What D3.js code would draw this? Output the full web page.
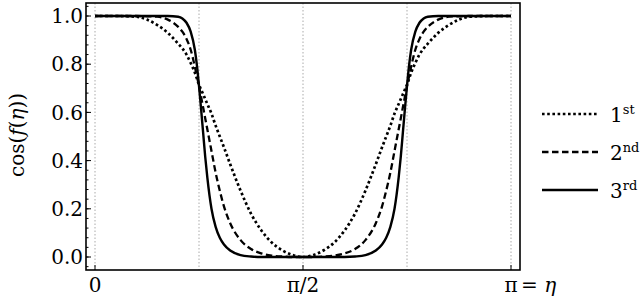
<!DOCTYPE html>
<html>
<head>
<meta charset="utf-8">
<script src="https://cdn.jsdelivr.net/npm/d3@7"></script>
<style>
  html, body { margin: 0; padding: 0; background: #fff; }
  svg { display: block; }
</style>
</head>
<body>
<svg id="chart" width="640" height="301"></svg>
<script>
// eta in units of pi
const eta = [0, 0.05, 0.1, 0.125, 0.15, 0.175, 0.2, 0.21, 0.22, 0.23, 0.24, 0.245, 0.25, 0.255, 0.26, 0.265, 0.27, 0.28, 0.29, 0.3, 0.31, 0.325, 0.35, 0.375, 0.4, 0.425, 0.45, 0.475, 0.5,
  0.525, 0.55, 0.575, 0.6, 0.625, 0.65, 0.675, 0.69, 0.7, 0.71, 0.72, 0.73, 0.735, 0.74, 0.745, 0.75, 0.755, 0.76, 0.77, 0.78, 0.79, 0.8, 0.825, 0.85, 0.875, 0.9, 0.95, 1.0];

const first = [1, 1, 0.997, 0.985, 0.962, 0.93, 0.885, 0.865, 0.84, 0.805, 0.765, 0.74, 0.715, 0.695, 0.675, 0.655, 0.635, 0.595, 0.545, 0.5, 0.455, 0.385, 0.275, 0.18, 0.11, 0.06, 0.028, 0.008, 0,
  0.008, 0.028, 0.06, 0.11, 0.18, 0.275, 0.385, 0.455, 0.5, 0.545, 0.595, 0.635, 0.655, 0.675, 0.695, 0.715, 0.74, 0.765, 0.805, 0.84, 0.865, 0.885, 0.93, 0.962, 0.985, 0.997, 1, 1];

const second = [1, 1, 1, 0.999, 0.997, 0.985, 0.955, 0.935, 0.905, 0.86, 0.79, 0.75, 0.71, 0.665, 0.62, 0.575, 0.53, 0.44, 0.35, 0.275, 0.21, 0.14, 0.07, 0.033, 0.015, 0.006, 0.002, 0, 0,
  0, 0.002, 0.006, 0.015, 0.033, 0.07, 0.14, 0.21, 0.275, 0.35, 0.44, 0.53, 0.575, 0.62, 0.665, 0.71, 0.75, 0.79, 0.86, 0.905, 0.935, 0.955, 0.985, 0.997, 0.999, 1, 1, 1];

const third = [1, 1, 1, 1, 1, 1, 0.997, 0.99, 0.972, 0.935, 0.86, 0.795, 0.71, 0.615, 0.515, 0.415, 0.33, 0.2, 0.125, 0.08, 0.052, 0.027, 0.008, 0.002, 0, 0, 0, 0, 0,
  0, 0, 0, 0, 0.002, 0.008, 0.027, 0.052, 0.08, 0.125, 0.2, 0.33, 0.415, 0.515, 0.615, 0.71, 0.795, 0.86, 0.935, 0.972, 0.99, 0.997, 1, 1, 1, 1, 1, 1];

const seriesNames = ["1", "2", "3"];
const seriesSup = ["st", "nd", "rd"];
const gridEta = [0, 0.25, 0.5, 0.75, 1];
const xTickEta = [0, 0.5, 1];
const xTickLabels = ["0", "\u03c0/2", "\u03c0"];
const yTicks = [0, 0.2, 0.4, 0.6, 0.8, 1.0];

const FONT = "DejaVu Serif";
const FS = 20;
const svg = d3.select("#chart");
const frame = { left: 86, right: 520, top: 3, bottom: 270 };

const x = d3.scaleLinear().domain([0, 1]).range([95, 511]);
const y = d3.scaleLinear().domain([0, 1]).range([257, 16]);

svg.append("g").selectAll("line").data(gridEta).join("line")
  .attr("x1", d => x(d)).attr("x2", d => x(d))
  .attr("y1", frame.top).attr("y2", frame.bottom)
  .attr("stroke", "#aaa").attr("stroke-width", 1)
  .attr("stroke-dasharray", "1.5,2");

const line = d3.line().x((d, i) => x(eta[i])).y(d => y(d)).curve(d3.curveMonotoneX);
const styles = [
  { dash: "2.6,2.6", width: 2.7 },
  { dash: "6.5,3.5", width: 2.3 },
  { dash: null, width: 2.4 }
];
[first, second, third].forEach((vals, k) => {
  svg.append("path").datum(vals)
    .attr("d", line)
    .attr("fill", "none")
    .attr("stroke", "#000")
    .attr("stroke-width", styles[k].width)
    .attr("stroke-dasharray", styles[k].dash);
});

svg.append("rect")
  .attr("x", frame.left).attr("y", frame.top)
  .attr("width", frame.right - frame.left).attr("height", frame.bottom - frame.top)
  .attr("fill", "none").attr("stroke", "#000").attr("stroke-width", 1.6);

const yMinor = d3.range(-0.04, 1.05, 0.04);
svg.append("g").selectAll("line").data(yMinor).join("line")
  .attr("x1", frame.left).attr("x2", frame.left + 2.5)
  .attr("y1", d => y(d)).attr("y2", d => y(d))
  .attr("stroke", "#000").attr("stroke-width", 1);
svg.append("g").selectAll("line").data(yTicks).join("line")
  .attr("x1", frame.left).attr("x2", frame.left + 5)
  .attr("y1", d => y(d)).attr("y2", d => y(d))
  .attr("stroke", "#000").attr("stroke-width", 1);
svg.append("g").selectAll("text").data(yTicks).join("text")
  .attr("x", frame.left - 3).attr("y", d => y(d))
  .attr("dy", "0.36em")
  .attr("text-anchor", "end")
  .style("font-family", FONT)
  .attr("font-size", FS)
  .text(d => d3.format(".1f")(d));

svg.append("g").selectAll("line").data(xTickEta).join("line")
  .attr("x1", d => x(d)).attr("x2", d => x(d))
  .attr("y1", frame.bottom).attr("y2", frame.bottom - 5)
  .attr("stroke", "#000").attr("stroke-width", 1);
svg.append("g").selectAll("text").data(xTickEta).join("text")
  .attr("x", d => x(d)).attr("y", 292)
  .attr("text-anchor", "middle")
  .style("font-family", FONT)
  .attr("font-size", FS)
  .text((d, i) => xTickLabels[i]);

const xl = svg.append("text")
  .attr("x", x(1) + 10).attr("y", 292)
  .style("font-family", FONT)
  .attr("font-size", FS);
xl.append("tspan").text("= ");
xl.append("tspan").attr("font-style", "italic").text("\u03b7");

const yt = svg.append("text")
  .attr("transform", "translate(24,135) rotate(-90)")
  .attr("text-anchor", "middle")
  .style("font-family", FONT)
  .attr("font-size", FS);
yt.append("tspan").text("cos(");
yt.append("tspan").attr("font-style", "italic").text("f");
yt.append("tspan").text("(");
yt.append("tspan").attr("font-style", "italic").text("\u03b7");
yt.append("tspan").text("))");

const legY = [114, 152, 190];
seriesNames.forEach((name, k) => {
  svg.append("line")
    .attr("x1", 542).attr("x2", 598)
    .attr("y1", legY[k]).attr("y2", legY[k])
    .attr("stroke", "#000")
    .attr("stroke-width", styles[k].width)
    .attr("stroke-dasharray", styles[k].dash);
  const t = svg.append("text")
    .attr("x", 610).attr("y", legY[k] + 8)
    .style("font-family", FONT)
    .attr("font-size", FS);
  t.append("tspan").text(name);
  t.append("tspan").attr("font-size", 13).attr("dy", -8).text(seriesSup[k]);
});
</script>
</body>
</html>
